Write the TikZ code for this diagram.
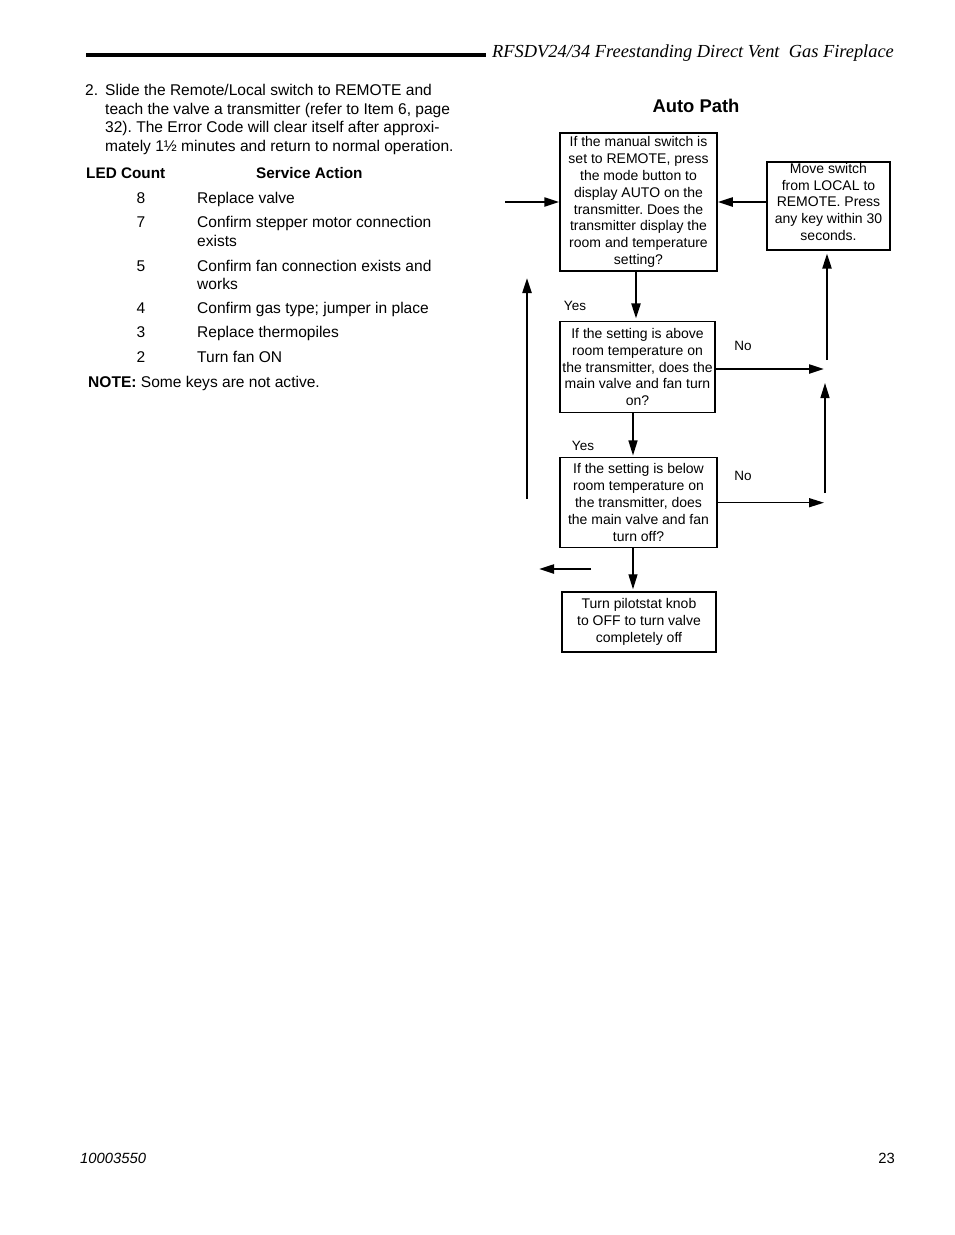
\documentclass[tikz,border=0pt]{standalone}
\usepackage{fontspec}
\setmainfont{Liberation Sans}
\newfontfamily\hdrfont{Liberation Serif}
\usetikzlibrary{arrows.meta}
\frenchspacing
\begin{document}
\begin{tikzpicture}[x=1pt,y=-1pt,
  body/.style={anchor=base west,inner sep=0pt,font=\fontsize{15.55}{18.6}\selectfont},
  num/.style={anchor=base,inner sep=0pt,font=\fontsize{15.55}{18.6}\selectfont},
  box/.style={draw,line width=1.5pt,inner sep=0pt,align=center,font=\fontsize{14}{16.9}\selectfont},
  lbl/.style={inner sep=0pt,font=\fontsize{13.5}{16}\selectfont},
  arrthick/.style={line width=2.2pt,-{Triangle[length=15pt,width=9pt]}},
  arrthin/.style={line width=1.4pt,-{Triangle[length=15pt,width=9pt]}}]
\useasboundingbox[fill=white] (0,0) rectangle (954,1235);

% header
\coordinate (hr1) at (86,54.5);
\coordinate (hr2) at (486,54.5);
\draw[line width=4pt] (hr1) -- (hr2);
\node[anchor=base west,inner sep=0pt,font=\hdrfont\itshape\fontsize{18.4}{22}\selectfont] (hdr) at (492,57)
  {RFSDV24/34 Freestanding Direct Vent\ \ Gas Fireplace};

% body text
\node[body] (n2) at (85,95.5) {2.};
\node[body] (t1) at (105,95.5) {Slide the Remote/Local switch to REMOTE and};
\node[body] (t2) at (105,114.3) {teach the valve a transmitter (refer to Item 6, page};
\node[body] (t3) at (105,132.8) {32). The Error Code will clear itself after approxi-};
\node[body] (t4) at (105,151.3) {mately 1½ minutes and return to normal operation.};
\node[body,font=\bfseries\fontsize{15.3}{18.6}\selectfont] (h1) at (86,178.5) {LED Count};
\node[body,font=\bfseries\fontsize{15.3}{18.6}\selectfont] (h2) at (256,178.5) {Service Action};
\node[num] (c8) at (141,203.5) {8};
\node[body] (a8) at (197,203.5) {Replace valve};
\node[num] (c7) at (141,227.5) {7};
\node[body] (a7) at (197,227.5) {Confirm stepper motor connection};
\node[body] (a7b) at (197,246.5) {exists};
\node[num] (c5) at (141,271.5) {5};
\node[body] (a5) at (197,271.5) {Confirm fan connection exists and};
\node[body] (a5b) at (197,289.5) {works};
\node[num] (c4) at (141,313.5) {4};
\node[body] (a4) at (197,313.5) {Confirm gas type; jumper in place};
\node[num] (c3) at (141,337.5) {3};
\node[body] (a3) at (197,337.5) {Replace thermopiles};
\node[num] (c2) at (141,362.5) {2};
\node[body] (a2) at (197,362.5) {Turn fan ON};
\node[body] (note) at (88,387.5) {\textbf{NOTE:} Some keys are not active.};

% title
\node[inner sep=0pt,font=\bfseries\fontsize{18.4}{22}\selectfont] (title) at (696,106) {Auto Path};

% flowchart boxes
\node[box,minimum width=157pt,minimum height=138pt] (A) at (638.5,202)
  {If the manual switch is\\set to REMOTE, press\\the mode button to\\display AUTO on the\\transmitter. Does the\\transmitter display the\\room and temperature\\setting?};
\node[box,minimum width=123pt,minimum height=88pt] (B) at (828.5,205.8)
  {Move switch\\from LOCAL to\\REMOTE. Press\\any key within 30\\seconds.\\[-9pt]\mbox{}};
\node[box,minimum width=155pt,minimum height=90.6pt] (C) at (637.5,367)
  {If the setting is above\\room temperature on\\the transmitter, does the\\main valve and fan turn\\on?};
\node[box,minimum width=157pt,minimum height=90pt] (D) at (638.5,502.7)
  {If the setting is below\\room temperature on\\the transmitter, does\\the main valve and fan\\turn off?};
\node[box,minimum width=154pt,minimum height=60pt] (E) at (639,622)
  {Turn pilotstat knob\\to OFF to turn valve\\completely off};

% labels
\node[lbl] (y1) at (575,306) {Yes};
\node[lbl] (no1) at (743,346) {No};
\node[lbl] (y2) at (583,446) {Yes};
\node[lbl] (no2) at (743,476) {No};

% free-end coordinates
\coordinate (in) at (505,202);
\coordinate (cR) at (824,369);
\coordinate (v1) at (827,360);
\coordinate (v2b) at (825,493);
\coordinate (v2t) at (825,383);
\coordinate (dR) at (824,502.7);
\coordinate (l1) at (591,569);
\coordinate (l2) at (539,569);
\coordinate (lb) at (527,499);
\coordinate (lt) at (527,278);

% connectors
\draw[arrthick] (in) -- (A.west |- in);
\draw[arrthick] (A.east -| B.west) -- (A.east);
\draw[arrthick,shorten >=2.5pt] ([xshift=-2.5pt]A.south) -- ([xshift=-1.5pt]C.north);
\draw[arrthick] ([yshift=-2pt]C.east) -- (cR);
\draw[arrthick,shorten >=3pt] (v1) -- (v1 |- B.south);
\draw[arrthin] (v2b) -- (v2t);
\draw[arrthin] (D.east |- dR) -- (dR);
\draw[arrthin,shorten >=1.5pt] ([xshift=-4.5pt]C.south) -- ([xshift=-5.5pt]D.north);
\draw[arrthin,shorten >=2pt] ([xshift=-5.5pt]D.south) -- ([xshift=-6pt]E.north);
\draw[arrthick] (l1) -- (l2);
\draw[arrthick] (lb) -- (lt);

% footer
\node[anchor=base west,inner sep=0pt,font=\itshape\fontsize{14.8}{17}\selectfont] (f1) at (80,1163) {10003550};
\node[anchor=base east,inner sep=0pt,font=\fontsize{14.8}{17}\selectfont] (f2) at (895,1163) {23};
\end{tikzpicture}
\end{document}
